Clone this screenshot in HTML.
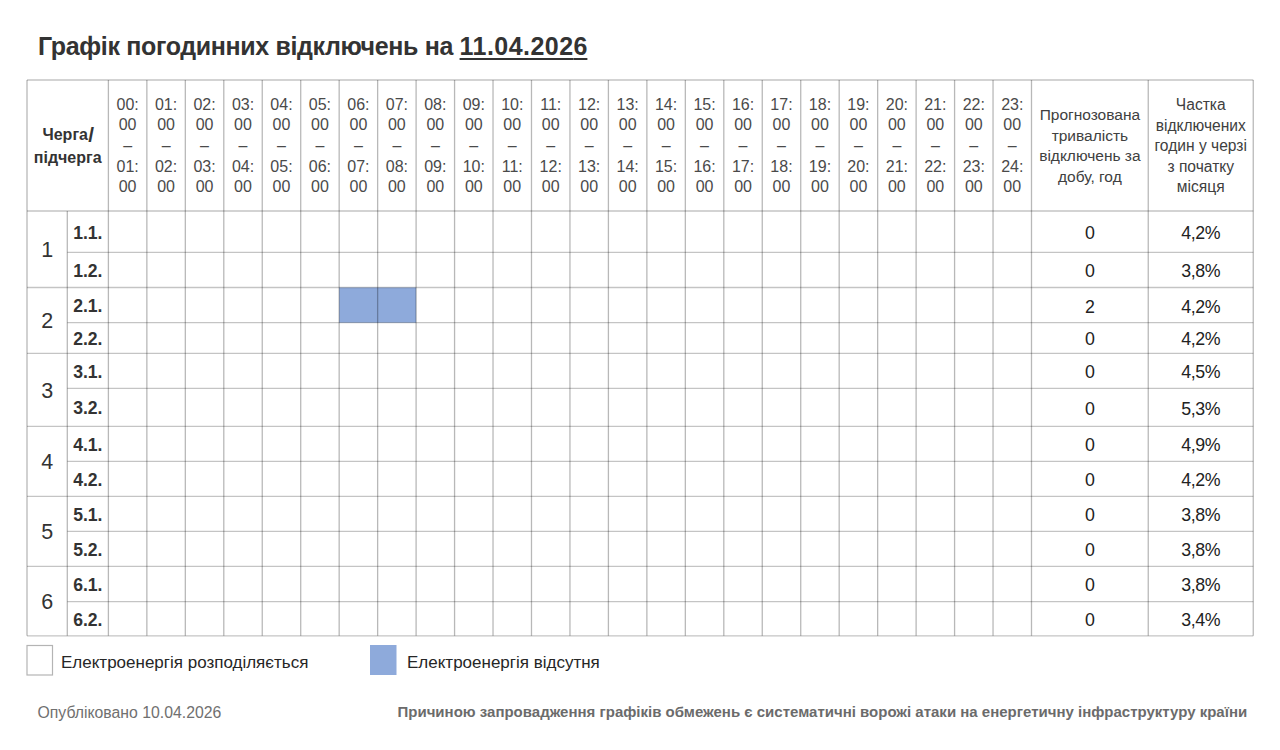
<!DOCTYPE html>
<html><head><meta charset="utf-8"><title>Графік погодинних відключень</title>
<style>
html,body{margin:0;padding:0;background:#fff;}
body{width:1280px;height:750px;position:relative;overflow:hidden;font-family:"Liberation Sans", sans-serif;}
svg{position:absolute;left:0;top:0;}
.t{position:absolute;white-space:nowrap;}
</style></head><body>
<svg width="1280" height="750" viewBox="0 0 1280 750">
<rect x="339.17499999999995" y="287.5" width="76.92500000000007" height="35.19999999999999" fill="#8eaadb"/>
<line x1="27.0" y1="80.0" x2="1253.25" y2="80.0" stroke="#000" stroke-opacity="0.23" stroke-width="1.3"/>
<line x1="27.0" y1="211.0" x2="1253.25" y2="211.0" stroke="#000" stroke-opacity="0.23" stroke-width="1.3"/>
<line x1="67.3" y1="252.4" x2="1253.25" y2="252.4" stroke="#000" stroke-opacity="0.23" stroke-width="1.3"/>
<line x1="27.0" y1="287.5" x2="1253.25" y2="287.5" stroke="#000" stroke-opacity="0.23" stroke-width="1.3"/>
<line x1="67.3" y1="322.7" x2="1253.25" y2="322.7" stroke="#000" stroke-opacity="0.23" stroke-width="1.3"/>
<line x1="27.0" y1="353.3" x2="1253.25" y2="353.3" stroke="#000" stroke-opacity="0.23" stroke-width="1.3"/>
<line x1="67.3" y1="388.4" x2="1253.25" y2="388.4" stroke="#000" stroke-opacity="0.23" stroke-width="1.3"/>
<line x1="27.0" y1="426.3" x2="1253.25" y2="426.3" stroke="#000" stroke-opacity="0.23" stroke-width="1.3"/>
<line x1="67.3" y1="461.3" x2="1253.25" y2="461.3" stroke="#000" stroke-opacity="0.23" stroke-width="1.3"/>
<line x1="27.0" y1="496.3" x2="1253.25" y2="496.3" stroke="#000" stroke-opacity="0.23" stroke-width="1.3"/>
<line x1="67.3" y1="531.3" x2="1253.25" y2="531.3" stroke="#000" stroke-opacity="0.23" stroke-width="1.3"/>
<line x1="27.0" y1="566.3" x2="1253.25" y2="566.3" stroke="#000" stroke-opacity="0.23" stroke-width="1.3"/>
<line x1="67.3" y1="601.6" x2="1253.25" y2="601.6" stroke="#000" stroke-opacity="0.23" stroke-width="1.3"/>
<line x1="27.0" y1="635.8" x2="1253.25" y2="635.8" stroke="#000" stroke-opacity="0.23" stroke-width="1.3"/>
<line x1="27.0" y1="80.0" x2="27.0" y2="635.8" stroke="#000" stroke-opacity="0.28" stroke-width="1.3"/>
<line x1="67.3" y1="211.0" x2="67.3" y2="635.8" stroke="#000" stroke-opacity="0.28" stroke-width="1.3"/>
<line x1="108.4" y1="80.0" x2="108.4" y2="635.8" stroke="#000" stroke-opacity="0.28" stroke-width="1.3"/>
<line x1="146.8625" y1="80.0" x2="146.8625" y2="635.8" stroke="#000" stroke-opacity="0.28" stroke-width="1.3"/>
<line x1="185.325" y1="80.0" x2="185.325" y2="635.8" stroke="#000" stroke-opacity="0.28" stroke-width="1.3"/>
<line x1="223.7875" y1="80.0" x2="223.7875" y2="635.8" stroke="#000" stroke-opacity="0.28" stroke-width="1.3"/>
<line x1="262.25" y1="80.0" x2="262.25" y2="635.8" stroke="#000" stroke-opacity="0.28" stroke-width="1.3"/>
<line x1="300.7125" y1="80.0" x2="300.7125" y2="635.8" stroke="#000" stroke-opacity="0.28" stroke-width="1.3"/>
<line x1="339.17499999999995" y1="80.0" x2="339.17499999999995" y2="635.8" stroke="#000" stroke-opacity="0.28" stroke-width="1.3"/>
<line x1="377.63750000000005" y1="80.0" x2="377.63750000000005" y2="635.8" stroke="#000" stroke-opacity="0.28" stroke-width="1.3"/>
<line x1="416.1" y1="80.0" x2="416.1" y2="635.8" stroke="#000" stroke-opacity="0.28" stroke-width="1.3"/>
<line x1="454.5625" y1="80.0" x2="454.5625" y2="635.8" stroke="#000" stroke-opacity="0.28" stroke-width="1.3"/>
<line x1="493.025" y1="80.0" x2="493.025" y2="635.8" stroke="#000" stroke-opacity="0.28" stroke-width="1.3"/>
<line x1="531.4875" y1="80.0" x2="531.4875" y2="635.8" stroke="#000" stroke-opacity="0.28" stroke-width="1.3"/>
<line x1="569.9499999999999" y1="80.0" x2="569.9499999999999" y2="635.8" stroke="#000" stroke-opacity="0.28" stroke-width="1.3"/>
<line x1="608.4125" y1="80.0" x2="608.4125" y2="635.8" stroke="#000" stroke-opacity="0.28" stroke-width="1.3"/>
<line x1="646.875" y1="80.0" x2="646.875" y2="635.8" stroke="#000" stroke-opacity="0.28" stroke-width="1.3"/>
<line x1="685.3375" y1="80.0" x2="685.3375" y2="635.8" stroke="#000" stroke-opacity="0.28" stroke-width="1.3"/>
<line x1="723.8" y1="80.0" x2="723.8" y2="635.8" stroke="#000" stroke-opacity="0.28" stroke-width="1.3"/>
<line x1="762.2624999999999" y1="80.0" x2="762.2624999999999" y2="635.8" stroke="#000" stroke-opacity="0.28" stroke-width="1.3"/>
<line x1="800.7249999999999" y1="80.0" x2="800.7249999999999" y2="635.8" stroke="#000" stroke-opacity="0.28" stroke-width="1.3"/>
<line x1="839.1875" y1="80.0" x2="839.1875" y2="635.8" stroke="#000" stroke-opacity="0.28" stroke-width="1.3"/>
<line x1="877.65" y1="80.0" x2="877.65" y2="635.8" stroke="#000" stroke-opacity="0.28" stroke-width="1.3"/>
<line x1="916.1125" y1="80.0" x2="916.1125" y2="635.8" stroke="#000" stroke-opacity="0.28" stroke-width="1.3"/>
<line x1="954.5749999999999" y1="80.0" x2="954.5749999999999" y2="635.8" stroke="#000" stroke-opacity="0.28" stroke-width="1.3"/>
<line x1="993.0374999999999" y1="80.0" x2="993.0374999999999" y2="635.8" stroke="#000" stroke-opacity="0.28" stroke-width="1.3"/>
<line x1="1031.5" y1="80.0" x2="1031.5" y2="635.8" stroke="#000" stroke-opacity="0.28" stroke-width="1.3"/>
<line x1="1148.25" y1="80.0" x2="1148.25" y2="635.8" stroke="#000" stroke-opacity="0.28" stroke-width="1.3"/>
<line x1="1253.25" y1="80.0" x2="1253.25" y2="635.8" stroke="#000" stroke-opacity="0.28" stroke-width="1.3"/>
<rect x="27" y="645.5" width="25.5" height="29.5" fill="#fff" stroke="#b4b4b4" stroke-width="1.2"/>
<rect x="370" y="645" width="26.5" height="30" fill="#8eaadb"/>
</svg>
<div class="t" style="left:38px;top:31.34px;font-size:25px;line-height:30.0px;color:#333;font-weight:700;letter-spacing:-0.35px;">Графік погодинних відключень на <span style="letter-spacing:0.45px;text-decoration:underline;text-decoration-thickness:2px;text-underline-offset:3px">11.04.202<span style="letter-spacing:0">6</span></span></div>
<div class="t" style="left:27.700000000000003px;width:80px;top:125.06px;font-size:16px;line-height:19.2px;color:#333;font-weight:700;text-align:center;">Черга<span style="display:inline-block;transform-origin:50% 70%;transform:translate(1px,1.8px) scale(1.3,1.3);margin-left:0.5px">/</span></div>
<div class="t" style="left:27.700000000000003px;width:80px;top:147.86px;font-size:16px;line-height:19.2px;color:#333;font-weight:700;text-align:center;">підчерга</div>
<div class="t" style="left:108.63125000000001px;width:38px;top:95.36px;font-size:16px;line-height:19.2px;color:#4a4a4a;font-weight:400;text-align:center;">00:</div>
<div class="t" style="left:108.63125000000001px;width:38px;top:115.46px;font-size:16px;line-height:19.2px;color:#4a4a4a;font-weight:400;text-align:center;">00</div>
<div class="t" style="left:108.63125000000001px;width:38px;top:135.86px;font-size:16px;line-height:19.2px;color:#4a4a4a;font-weight:400;text-align:center;">–</div>
<div class="t" style="left:108.63125000000001px;width:38px;top:157.16px;font-size:16px;line-height:19.2px;color:#4a4a4a;font-weight:400;text-align:center;">01:</div>
<div class="t" style="left:108.63125000000001px;width:38px;top:177.36px;font-size:16px;line-height:19.2px;color:#4a4a4a;font-weight:400;text-align:center;">00</div>
<div class="t" style="left:147.09375px;width:38px;top:95.36px;font-size:16px;line-height:19.2px;color:#4a4a4a;font-weight:400;text-align:center;">01:</div>
<div class="t" style="left:147.09375px;width:38px;top:115.46px;font-size:16px;line-height:19.2px;color:#4a4a4a;font-weight:400;text-align:center;">00</div>
<div class="t" style="left:147.09375px;width:38px;top:135.86px;font-size:16px;line-height:19.2px;color:#4a4a4a;font-weight:400;text-align:center;">–</div>
<div class="t" style="left:147.09375px;width:38px;top:157.16px;font-size:16px;line-height:19.2px;color:#4a4a4a;font-weight:400;text-align:center;">02:</div>
<div class="t" style="left:147.09375px;width:38px;top:177.36px;font-size:16px;line-height:19.2px;color:#4a4a4a;font-weight:400;text-align:center;">00</div>
<div class="t" style="left:185.55624999999998px;width:38px;top:95.36px;font-size:16px;line-height:19.2px;color:#4a4a4a;font-weight:400;text-align:center;">02:</div>
<div class="t" style="left:185.55624999999998px;width:38px;top:115.46px;font-size:16px;line-height:19.2px;color:#4a4a4a;font-weight:400;text-align:center;">00</div>
<div class="t" style="left:185.55624999999998px;width:38px;top:135.86px;font-size:16px;line-height:19.2px;color:#4a4a4a;font-weight:400;text-align:center;">–</div>
<div class="t" style="left:185.55624999999998px;width:38px;top:157.16px;font-size:16px;line-height:19.2px;color:#4a4a4a;font-weight:400;text-align:center;">03:</div>
<div class="t" style="left:185.55624999999998px;width:38px;top:177.36px;font-size:16px;line-height:19.2px;color:#4a4a4a;font-weight:400;text-align:center;">00</div>
<div class="t" style="left:224.01875px;width:38px;top:95.36px;font-size:16px;line-height:19.2px;color:#4a4a4a;font-weight:400;text-align:center;">03:</div>
<div class="t" style="left:224.01875px;width:38px;top:115.46px;font-size:16px;line-height:19.2px;color:#4a4a4a;font-weight:400;text-align:center;">00</div>
<div class="t" style="left:224.01875px;width:38px;top:135.86px;font-size:16px;line-height:19.2px;color:#4a4a4a;font-weight:400;text-align:center;">–</div>
<div class="t" style="left:224.01875px;width:38px;top:157.16px;font-size:16px;line-height:19.2px;color:#4a4a4a;font-weight:400;text-align:center;">04:</div>
<div class="t" style="left:224.01875px;width:38px;top:177.36px;font-size:16px;line-height:19.2px;color:#4a4a4a;font-weight:400;text-align:center;">00</div>
<div class="t" style="left:262.48125px;width:38px;top:95.36px;font-size:16px;line-height:19.2px;color:#4a4a4a;font-weight:400;text-align:center;">04:</div>
<div class="t" style="left:262.48125px;width:38px;top:115.46px;font-size:16px;line-height:19.2px;color:#4a4a4a;font-weight:400;text-align:center;">00</div>
<div class="t" style="left:262.48125px;width:38px;top:135.86px;font-size:16px;line-height:19.2px;color:#4a4a4a;font-weight:400;text-align:center;">–</div>
<div class="t" style="left:262.48125px;width:38px;top:157.16px;font-size:16px;line-height:19.2px;color:#4a4a4a;font-weight:400;text-align:center;">05:</div>
<div class="t" style="left:262.48125px;width:38px;top:177.36px;font-size:16px;line-height:19.2px;color:#4a4a4a;font-weight:400;text-align:center;">00</div>
<div class="t" style="left:300.94374999999997px;width:38px;top:95.36px;font-size:16px;line-height:19.2px;color:#4a4a4a;font-weight:400;text-align:center;">05:</div>
<div class="t" style="left:300.94374999999997px;width:38px;top:115.46px;font-size:16px;line-height:19.2px;color:#4a4a4a;font-weight:400;text-align:center;">00</div>
<div class="t" style="left:300.94374999999997px;width:38px;top:135.86px;font-size:16px;line-height:19.2px;color:#4a4a4a;font-weight:400;text-align:center;">–</div>
<div class="t" style="left:300.94374999999997px;width:38px;top:157.16px;font-size:16px;line-height:19.2px;color:#4a4a4a;font-weight:400;text-align:center;">06:</div>
<div class="t" style="left:300.94374999999997px;width:38px;top:177.36px;font-size:16px;line-height:19.2px;color:#4a4a4a;font-weight:400;text-align:center;">00</div>
<div class="t" style="left:339.40625px;width:38px;top:95.36px;font-size:16px;line-height:19.2px;color:#4a4a4a;font-weight:400;text-align:center;">06:</div>
<div class="t" style="left:339.40625px;width:38px;top:115.46px;font-size:16px;line-height:19.2px;color:#4a4a4a;font-weight:400;text-align:center;">00</div>
<div class="t" style="left:339.40625px;width:38px;top:135.86px;font-size:16px;line-height:19.2px;color:#4a4a4a;font-weight:400;text-align:center;">–</div>
<div class="t" style="left:339.40625px;width:38px;top:157.16px;font-size:16px;line-height:19.2px;color:#4a4a4a;font-weight:400;text-align:center;">07:</div>
<div class="t" style="left:339.40625px;width:38px;top:177.36px;font-size:16px;line-height:19.2px;color:#4a4a4a;font-weight:400;text-align:center;">00</div>
<div class="t" style="left:377.86875000000003px;width:38px;top:95.36px;font-size:16px;line-height:19.2px;color:#4a4a4a;font-weight:400;text-align:center;">07:</div>
<div class="t" style="left:377.86875000000003px;width:38px;top:115.46px;font-size:16px;line-height:19.2px;color:#4a4a4a;font-weight:400;text-align:center;">00</div>
<div class="t" style="left:377.86875000000003px;width:38px;top:135.86px;font-size:16px;line-height:19.2px;color:#4a4a4a;font-weight:400;text-align:center;">–</div>
<div class="t" style="left:377.86875000000003px;width:38px;top:157.16px;font-size:16px;line-height:19.2px;color:#4a4a4a;font-weight:400;text-align:center;">08:</div>
<div class="t" style="left:377.86875000000003px;width:38px;top:177.36px;font-size:16px;line-height:19.2px;color:#4a4a4a;font-weight:400;text-align:center;">00</div>
<div class="t" style="left:416.33125px;width:38px;top:95.36px;font-size:16px;line-height:19.2px;color:#4a4a4a;font-weight:400;text-align:center;">08:</div>
<div class="t" style="left:416.33125px;width:38px;top:115.46px;font-size:16px;line-height:19.2px;color:#4a4a4a;font-weight:400;text-align:center;">00</div>
<div class="t" style="left:416.33125px;width:38px;top:135.86px;font-size:16px;line-height:19.2px;color:#4a4a4a;font-weight:400;text-align:center;">–</div>
<div class="t" style="left:416.33125px;width:38px;top:157.16px;font-size:16px;line-height:19.2px;color:#4a4a4a;font-weight:400;text-align:center;">09:</div>
<div class="t" style="left:416.33125px;width:38px;top:177.36px;font-size:16px;line-height:19.2px;color:#4a4a4a;font-weight:400;text-align:center;">00</div>
<div class="t" style="left:454.79375px;width:38px;top:95.36px;font-size:16px;line-height:19.2px;color:#4a4a4a;font-weight:400;text-align:center;">09:</div>
<div class="t" style="left:454.79375px;width:38px;top:115.46px;font-size:16px;line-height:19.2px;color:#4a4a4a;font-weight:400;text-align:center;">00</div>
<div class="t" style="left:454.79375px;width:38px;top:135.86px;font-size:16px;line-height:19.2px;color:#4a4a4a;font-weight:400;text-align:center;">–</div>
<div class="t" style="left:454.79375px;width:38px;top:157.16px;font-size:16px;line-height:19.2px;color:#4a4a4a;font-weight:400;text-align:center;">10:</div>
<div class="t" style="left:454.79375px;width:38px;top:177.36px;font-size:16px;line-height:19.2px;color:#4a4a4a;font-weight:400;text-align:center;">00</div>
<div class="t" style="left:493.2562499999999px;width:38px;top:95.36px;font-size:16px;line-height:19.2px;color:#4a4a4a;font-weight:400;text-align:center;">10:</div>
<div class="t" style="left:493.2562499999999px;width:38px;top:115.46px;font-size:16px;line-height:19.2px;color:#4a4a4a;font-weight:400;text-align:center;">00</div>
<div class="t" style="left:493.2562499999999px;width:38px;top:135.86px;font-size:16px;line-height:19.2px;color:#4a4a4a;font-weight:400;text-align:center;">–</div>
<div class="t" style="left:493.2562499999999px;width:38px;top:157.16px;font-size:16px;line-height:19.2px;color:#4a4a4a;font-weight:400;text-align:center;">11:</div>
<div class="t" style="left:493.2562499999999px;width:38px;top:177.36px;font-size:16px;line-height:19.2px;color:#4a4a4a;font-weight:400;text-align:center;">00</div>
<div class="t" style="left:531.71875px;width:38px;top:95.36px;font-size:16px;line-height:19.2px;color:#4a4a4a;font-weight:400;text-align:center;">11:</div>
<div class="t" style="left:531.71875px;width:38px;top:115.46px;font-size:16px;line-height:19.2px;color:#4a4a4a;font-weight:400;text-align:center;">00</div>
<div class="t" style="left:531.71875px;width:38px;top:135.86px;font-size:16px;line-height:19.2px;color:#4a4a4a;font-weight:400;text-align:center;">–</div>
<div class="t" style="left:531.71875px;width:38px;top:157.16px;font-size:16px;line-height:19.2px;color:#4a4a4a;font-weight:400;text-align:center;">12:</div>
<div class="t" style="left:531.71875px;width:38px;top:177.36px;font-size:16px;line-height:19.2px;color:#4a4a4a;font-weight:400;text-align:center;">00</div>
<div class="t" style="left:570.18125px;width:38px;top:95.36px;font-size:16px;line-height:19.2px;color:#4a4a4a;font-weight:400;text-align:center;">12:</div>
<div class="t" style="left:570.18125px;width:38px;top:115.46px;font-size:16px;line-height:19.2px;color:#4a4a4a;font-weight:400;text-align:center;">00</div>
<div class="t" style="left:570.18125px;width:38px;top:135.86px;font-size:16px;line-height:19.2px;color:#4a4a4a;font-weight:400;text-align:center;">–</div>
<div class="t" style="left:570.18125px;width:38px;top:157.16px;font-size:16px;line-height:19.2px;color:#4a4a4a;font-weight:400;text-align:center;">13:</div>
<div class="t" style="left:570.18125px;width:38px;top:177.36px;font-size:16px;line-height:19.2px;color:#4a4a4a;font-weight:400;text-align:center;">00</div>
<div class="t" style="left:608.64375px;width:38px;top:95.36px;font-size:16px;line-height:19.2px;color:#4a4a4a;font-weight:400;text-align:center;">13:</div>
<div class="t" style="left:608.64375px;width:38px;top:115.46px;font-size:16px;line-height:19.2px;color:#4a4a4a;font-weight:400;text-align:center;">00</div>
<div class="t" style="left:608.64375px;width:38px;top:135.86px;font-size:16px;line-height:19.2px;color:#4a4a4a;font-weight:400;text-align:center;">–</div>
<div class="t" style="left:608.64375px;width:38px;top:157.16px;font-size:16px;line-height:19.2px;color:#4a4a4a;font-weight:400;text-align:center;">14:</div>
<div class="t" style="left:608.64375px;width:38px;top:177.36px;font-size:16px;line-height:19.2px;color:#4a4a4a;font-weight:400;text-align:center;">00</div>
<div class="t" style="left:647.10625px;width:38px;top:95.36px;font-size:16px;line-height:19.2px;color:#4a4a4a;font-weight:400;text-align:center;">14:</div>
<div class="t" style="left:647.10625px;width:38px;top:115.46px;font-size:16px;line-height:19.2px;color:#4a4a4a;font-weight:400;text-align:center;">00</div>
<div class="t" style="left:647.10625px;width:38px;top:135.86px;font-size:16px;line-height:19.2px;color:#4a4a4a;font-weight:400;text-align:center;">–</div>
<div class="t" style="left:647.10625px;width:38px;top:157.16px;font-size:16px;line-height:19.2px;color:#4a4a4a;font-weight:400;text-align:center;">15:</div>
<div class="t" style="left:647.10625px;width:38px;top:177.36px;font-size:16px;line-height:19.2px;color:#4a4a4a;font-weight:400;text-align:center;">00</div>
<div class="t" style="left:685.5687499999999px;width:38px;top:95.36px;font-size:16px;line-height:19.2px;color:#4a4a4a;font-weight:400;text-align:center;">15:</div>
<div class="t" style="left:685.5687499999999px;width:38px;top:115.46px;font-size:16px;line-height:19.2px;color:#4a4a4a;font-weight:400;text-align:center;">00</div>
<div class="t" style="left:685.5687499999999px;width:38px;top:135.86px;font-size:16px;line-height:19.2px;color:#4a4a4a;font-weight:400;text-align:center;">–</div>
<div class="t" style="left:685.5687499999999px;width:38px;top:157.16px;font-size:16px;line-height:19.2px;color:#4a4a4a;font-weight:400;text-align:center;">16:</div>
<div class="t" style="left:685.5687499999999px;width:38px;top:177.36px;font-size:16px;line-height:19.2px;color:#4a4a4a;font-weight:400;text-align:center;">00</div>
<div class="t" style="left:724.03125px;width:38px;top:95.36px;font-size:16px;line-height:19.2px;color:#4a4a4a;font-weight:400;text-align:center;">16:</div>
<div class="t" style="left:724.03125px;width:38px;top:115.46px;font-size:16px;line-height:19.2px;color:#4a4a4a;font-weight:400;text-align:center;">00</div>
<div class="t" style="left:724.03125px;width:38px;top:135.86px;font-size:16px;line-height:19.2px;color:#4a4a4a;font-weight:400;text-align:center;">–</div>
<div class="t" style="left:724.03125px;width:38px;top:157.16px;font-size:16px;line-height:19.2px;color:#4a4a4a;font-weight:400;text-align:center;">17:</div>
<div class="t" style="left:724.03125px;width:38px;top:177.36px;font-size:16px;line-height:19.2px;color:#4a4a4a;font-weight:400;text-align:center;">00</div>
<div class="t" style="left:762.4937499999999px;width:38px;top:95.36px;font-size:16px;line-height:19.2px;color:#4a4a4a;font-weight:400;text-align:center;">17:</div>
<div class="t" style="left:762.4937499999999px;width:38px;top:115.46px;font-size:16px;line-height:19.2px;color:#4a4a4a;font-weight:400;text-align:center;">00</div>
<div class="t" style="left:762.4937499999999px;width:38px;top:135.86px;font-size:16px;line-height:19.2px;color:#4a4a4a;font-weight:400;text-align:center;">–</div>
<div class="t" style="left:762.4937499999999px;width:38px;top:157.16px;font-size:16px;line-height:19.2px;color:#4a4a4a;font-weight:400;text-align:center;">18:</div>
<div class="t" style="left:762.4937499999999px;width:38px;top:177.36px;font-size:16px;line-height:19.2px;color:#4a4a4a;font-weight:400;text-align:center;">00</div>
<div class="t" style="left:800.95625px;width:38px;top:95.36px;font-size:16px;line-height:19.2px;color:#4a4a4a;font-weight:400;text-align:center;">18:</div>
<div class="t" style="left:800.95625px;width:38px;top:115.46px;font-size:16px;line-height:19.2px;color:#4a4a4a;font-weight:400;text-align:center;">00</div>
<div class="t" style="left:800.95625px;width:38px;top:135.86px;font-size:16px;line-height:19.2px;color:#4a4a4a;font-weight:400;text-align:center;">–</div>
<div class="t" style="left:800.95625px;width:38px;top:157.16px;font-size:16px;line-height:19.2px;color:#4a4a4a;font-weight:400;text-align:center;">19:</div>
<div class="t" style="left:800.95625px;width:38px;top:177.36px;font-size:16px;line-height:19.2px;color:#4a4a4a;font-weight:400;text-align:center;">00</div>
<div class="t" style="left:839.41875px;width:38px;top:95.36px;font-size:16px;line-height:19.2px;color:#4a4a4a;font-weight:400;text-align:center;">19:</div>
<div class="t" style="left:839.41875px;width:38px;top:115.46px;font-size:16px;line-height:19.2px;color:#4a4a4a;font-weight:400;text-align:center;">00</div>
<div class="t" style="left:839.41875px;width:38px;top:135.86px;font-size:16px;line-height:19.2px;color:#4a4a4a;font-weight:400;text-align:center;">–</div>
<div class="t" style="left:839.41875px;width:38px;top:157.16px;font-size:16px;line-height:19.2px;color:#4a4a4a;font-weight:400;text-align:center;">20:</div>
<div class="t" style="left:839.41875px;width:38px;top:177.36px;font-size:16px;line-height:19.2px;color:#4a4a4a;font-weight:400;text-align:center;">00</div>
<div class="t" style="left:877.8812499999999px;width:38px;top:95.36px;font-size:16px;line-height:19.2px;color:#4a4a4a;font-weight:400;text-align:center;">20:</div>
<div class="t" style="left:877.8812499999999px;width:38px;top:115.46px;font-size:16px;line-height:19.2px;color:#4a4a4a;font-weight:400;text-align:center;">00</div>
<div class="t" style="left:877.8812499999999px;width:38px;top:135.86px;font-size:16px;line-height:19.2px;color:#4a4a4a;font-weight:400;text-align:center;">–</div>
<div class="t" style="left:877.8812499999999px;width:38px;top:157.16px;font-size:16px;line-height:19.2px;color:#4a4a4a;font-weight:400;text-align:center;">21:</div>
<div class="t" style="left:877.8812499999999px;width:38px;top:177.36px;font-size:16px;line-height:19.2px;color:#4a4a4a;font-weight:400;text-align:center;">00</div>
<div class="t" style="left:916.34375px;width:38px;top:95.36px;font-size:16px;line-height:19.2px;color:#4a4a4a;font-weight:400;text-align:center;">21:</div>
<div class="t" style="left:916.34375px;width:38px;top:115.46px;font-size:16px;line-height:19.2px;color:#4a4a4a;font-weight:400;text-align:center;">00</div>
<div class="t" style="left:916.34375px;width:38px;top:135.86px;font-size:16px;line-height:19.2px;color:#4a4a4a;font-weight:400;text-align:center;">–</div>
<div class="t" style="left:916.34375px;width:38px;top:157.16px;font-size:16px;line-height:19.2px;color:#4a4a4a;font-weight:400;text-align:center;">22:</div>
<div class="t" style="left:916.34375px;width:38px;top:177.36px;font-size:16px;line-height:19.2px;color:#4a4a4a;font-weight:400;text-align:center;">00</div>
<div class="t" style="left:954.8062499999999px;width:38px;top:95.36px;font-size:16px;line-height:19.2px;color:#4a4a4a;font-weight:400;text-align:center;">22:</div>
<div class="t" style="left:954.8062499999999px;width:38px;top:115.46px;font-size:16px;line-height:19.2px;color:#4a4a4a;font-weight:400;text-align:center;">00</div>
<div class="t" style="left:954.8062499999999px;width:38px;top:135.86px;font-size:16px;line-height:19.2px;color:#4a4a4a;font-weight:400;text-align:center;">–</div>
<div class="t" style="left:954.8062499999999px;width:38px;top:157.16px;font-size:16px;line-height:19.2px;color:#4a4a4a;font-weight:400;text-align:center;">23:</div>
<div class="t" style="left:954.8062499999999px;width:38px;top:177.36px;font-size:16px;line-height:19.2px;color:#4a4a4a;font-weight:400;text-align:center;">00</div>
<div class="t" style="left:993.26875px;width:38px;top:95.36px;font-size:16px;line-height:19.2px;color:#4a4a4a;font-weight:400;text-align:center;">23:</div>
<div class="t" style="left:993.26875px;width:38px;top:115.46px;font-size:16px;line-height:19.2px;color:#4a4a4a;font-weight:400;text-align:center;">00</div>
<div class="t" style="left:993.26875px;width:38px;top:135.86px;font-size:16px;line-height:19.2px;color:#4a4a4a;font-weight:400;text-align:center;">–</div>
<div class="t" style="left:993.26875px;width:38px;top:157.16px;font-size:16px;line-height:19.2px;color:#4a4a4a;font-weight:400;text-align:center;">24:</div>
<div class="t" style="left:993.26875px;width:38px;top:177.36px;font-size:16px;line-height:19.2px;color:#4a4a4a;font-weight:400;text-align:center;">00</div>
<div class="t" style="left:1031.875px;width:116px;top:105.93px;font-size:15.5px;line-height:18.6px;color:#404040;font-weight:400;text-align:center;">Прогнозована</div>
<div class="t" style="left:1031.875px;width:116px;top:126.63px;font-size:15.5px;line-height:18.6px;color:#404040;font-weight:400;text-align:center;">тривалість</div>
<div class="t" style="left:1031.875px;width:116px;top:147.23px;font-size:15.5px;line-height:18.6px;color:#404040;font-weight:400;text-align:center;">відключень за</div>
<div class="t" style="left:1031.875px;width:116px;top:167.83px;font-size:15.5px;line-height:18.6px;color:#404040;font-weight:400;text-align:center;">добу, год</div>
<div class="t" style="left:1148.75px;width:104px;top:96.03px;font-size:15.6px;line-height:18.72px;color:#404040;font-weight:400;text-align:center;">Частка</div>
<div class="t" style="left:1148.75px;width:104px;top:116.53px;font-size:15.6px;line-height:18.72px;color:#404040;font-weight:400;text-align:center;">відключених</div>
<div class="t" style="left:1148.75px;width:104px;top:137.03px;font-size:15.6px;line-height:18.72px;color:#404040;font-weight:400;text-align:center;">годин у черзі</div>
<div class="t" style="left:1148.75px;width:104px;top:157.53px;font-size:15.6px;line-height:18.72px;color:#404040;font-weight:400;text-align:center;">з початку</div>
<div class="t" style="left:1148.75px;width:104px;top:178.03px;font-size:15.6px;line-height:18.72px;color:#404040;font-weight:400;text-align:center;">місяця</div>
<div class="t" style="left:27.15px;width:40px;top:238.20px;font-size:21.5px;line-height:25.8px;color:#333;font-weight:400;text-align:center;">1</div>
<div class="t" style="left:67.35px;width:41px;top:222.54px;font-size:17.6px;line-height:21.12px;color:#333;font-weight:700;text-align:center;">1.1.</div>
<div class="t" style="left:1031.875px;width:116px;top:223.15px;font-size:17.8px;line-height:21.36px;color:#222;font-weight:400;text-align:center;">0</div>
<div class="t" style="left:1148.75px;width:104px;top:223.15px;font-size:17.8px;line-height:21.36px;color:#222;font-weight:400;text-align:center;letter-spacing:-0.4px;">4,2%</div>
<div class="t" style="left:67.35px;width:41px;top:260.79px;font-size:17.6px;line-height:21.12px;color:#333;font-weight:700;text-align:center;">1.2.</div>
<div class="t" style="left:1031.875px;width:116px;top:261.40px;font-size:17.8px;line-height:21.36px;color:#222;font-weight:400;text-align:center;">0</div>
<div class="t" style="left:1148.75px;width:104px;top:261.40px;font-size:17.8px;line-height:21.36px;color:#222;font-weight:400;text-align:center;letter-spacing:-0.4px;">3,8%</div>
<div class="t" style="left:27.15px;width:40px;top:309.35px;font-size:21.5px;line-height:25.8px;color:#333;font-weight:400;text-align:center;">2</div>
<div class="t" style="left:67.35px;width:41px;top:295.94px;font-size:17.6px;line-height:21.12px;color:#333;font-weight:700;text-align:center;">2.1.</div>
<div class="t" style="left:1031.875px;width:116px;top:296.55px;font-size:17.8px;line-height:21.36px;color:#222;font-weight:400;text-align:center;">2</div>
<div class="t" style="left:1148.75px;width:104px;top:296.55px;font-size:17.8px;line-height:21.36px;color:#222;font-weight:400;text-align:center;letter-spacing:-0.4px;">4,2%</div>
<div class="t" style="left:67.35px;width:41px;top:328.84px;font-size:17.6px;line-height:21.12px;color:#333;font-weight:700;text-align:center;">2.2.</div>
<div class="t" style="left:1031.875px;width:116px;top:329.45px;font-size:17.8px;line-height:21.36px;color:#222;font-weight:400;text-align:center;">0</div>
<div class="t" style="left:1148.75px;width:104px;top:329.45px;font-size:17.8px;line-height:21.36px;color:#222;font-weight:400;text-align:center;letter-spacing:-0.4px;">4,2%</div>
<div class="t" style="left:27.15px;width:40px;top:378.75px;font-size:21.5px;line-height:25.8px;color:#333;font-weight:400;text-align:center;">3</div>
<div class="t" style="left:67.35px;width:41px;top:361.69px;font-size:17.6px;line-height:21.12px;color:#333;font-weight:700;text-align:center;">3.1.</div>
<div class="t" style="left:1031.875px;width:116px;top:362.30px;font-size:17.8px;line-height:21.36px;color:#222;font-weight:400;text-align:center;">0</div>
<div class="t" style="left:1148.75px;width:104px;top:362.30px;font-size:17.8px;line-height:21.36px;color:#222;font-weight:400;text-align:center;letter-spacing:-0.4px;">4,5%</div>
<div class="t" style="left:67.35px;width:41px;top:398.19px;font-size:17.6px;line-height:21.12px;color:#333;font-weight:700;text-align:center;">3.2.</div>
<div class="t" style="left:1031.875px;width:116px;top:398.80px;font-size:17.8px;line-height:21.36px;color:#222;font-weight:400;text-align:center;">0</div>
<div class="t" style="left:1148.75px;width:104px;top:398.80px;font-size:17.8px;line-height:21.36px;color:#222;font-weight:400;text-align:center;letter-spacing:-0.4px;">5,3%</div>
<div class="t" style="left:27.15px;width:40px;top:450.25px;font-size:21.5px;line-height:25.8px;color:#333;font-weight:400;text-align:center;">4</div>
<div class="t" style="left:67.35px;width:41px;top:434.64px;font-size:17.6px;line-height:21.12px;color:#333;font-weight:700;text-align:center;">4.1.</div>
<div class="t" style="left:1031.875px;width:116px;top:435.25px;font-size:17.8px;line-height:21.36px;color:#222;font-weight:400;text-align:center;">0</div>
<div class="t" style="left:1148.75px;width:104px;top:435.25px;font-size:17.8px;line-height:21.36px;color:#222;font-weight:400;text-align:center;letter-spacing:-0.4px;">4,9%</div>
<div class="t" style="left:67.35px;width:41px;top:469.64px;font-size:17.6px;line-height:21.12px;color:#333;font-weight:700;text-align:center;">4.2.</div>
<div class="t" style="left:1031.875px;width:116px;top:470.25px;font-size:17.8px;line-height:21.36px;color:#222;font-weight:400;text-align:center;">0</div>
<div class="t" style="left:1148.75px;width:104px;top:470.25px;font-size:17.8px;line-height:21.36px;color:#222;font-weight:400;text-align:center;letter-spacing:-0.4px;">4,2%</div>
<div class="t" style="left:27.15px;width:40px;top:520.25px;font-size:21.5px;line-height:25.8px;color:#333;font-weight:400;text-align:center;">5</div>
<div class="t" style="left:67.35px;width:41px;top:504.64px;font-size:17.6px;line-height:21.12px;color:#333;font-weight:700;text-align:center;">5.1.</div>
<div class="t" style="left:1031.875px;width:116px;top:505.25px;font-size:17.8px;line-height:21.36px;color:#222;font-weight:400;text-align:center;">0</div>
<div class="t" style="left:1148.75px;width:104px;top:505.25px;font-size:17.8px;line-height:21.36px;color:#222;font-weight:400;text-align:center;letter-spacing:-0.4px;">3,8%</div>
<div class="t" style="left:67.35px;width:41px;top:539.64px;font-size:17.6px;line-height:21.12px;color:#333;font-weight:700;text-align:center;">5.2.</div>
<div class="t" style="left:1031.875px;width:116px;top:540.25px;font-size:17.8px;line-height:21.36px;color:#222;font-weight:400;text-align:center;">0</div>
<div class="t" style="left:1148.75px;width:104px;top:540.25px;font-size:17.8px;line-height:21.36px;color:#222;font-weight:400;text-align:center;letter-spacing:-0.4px;">3,8%</div>
<div class="t" style="left:27.15px;width:40px;top:590.00px;font-size:21.5px;line-height:25.8px;color:#333;font-weight:400;text-align:center;">6</div>
<div class="t" style="left:67.35px;width:41px;top:574.79px;font-size:17.6px;line-height:21.12px;color:#333;font-weight:700;text-align:center;">6.1.</div>
<div class="t" style="left:1031.875px;width:116px;top:575.40px;font-size:17.8px;line-height:21.36px;color:#222;font-weight:400;text-align:center;">0</div>
<div class="t" style="left:1148.75px;width:104px;top:575.40px;font-size:17.8px;line-height:21.36px;color:#222;font-weight:400;text-align:center;letter-spacing:-0.4px;">3,8%</div>
<div class="t" style="left:67.35px;width:41px;top:609.54px;font-size:17.6px;line-height:21.12px;color:#333;font-weight:700;text-align:center;">6.2.</div>
<div class="t" style="left:1031.875px;width:116px;top:610.15px;font-size:17.8px;line-height:21.36px;color:#222;font-weight:400;text-align:center;">0</div>
<div class="t" style="left:1148.75px;width:104px;top:610.15px;font-size:17.8px;line-height:21.36px;color:#222;font-weight:400;text-align:center;letter-spacing:-0.4px;">3,4%</div>
<div class="t" style="left:61px;top:653.01px;font-size:17px;line-height:20.4px;color:#262626;font-weight:400;">Електроенергія розподіляється</div>
<div class="t" style="left:407px;top:653.01px;font-size:17px;line-height:20.4px;color:#262626;font-weight:400;">Електроенергія відсутня</div>
<div class="t" style="left:37.5px;top:704.05px;font-size:15.8px;line-height:18.96px;color:#707070;font-weight:400;">Опубліковано 10.04.2026</div>
<div class="t" style="left:397.5px;top:702.50px;font-size:15px;line-height:18.0px;color:#6b6b6b;font-weight:700;">Причиною запровадження графіків обмежень є систематичні ворожі атаки на енергетичну інфраструктуру країни</div>
</body></html>
